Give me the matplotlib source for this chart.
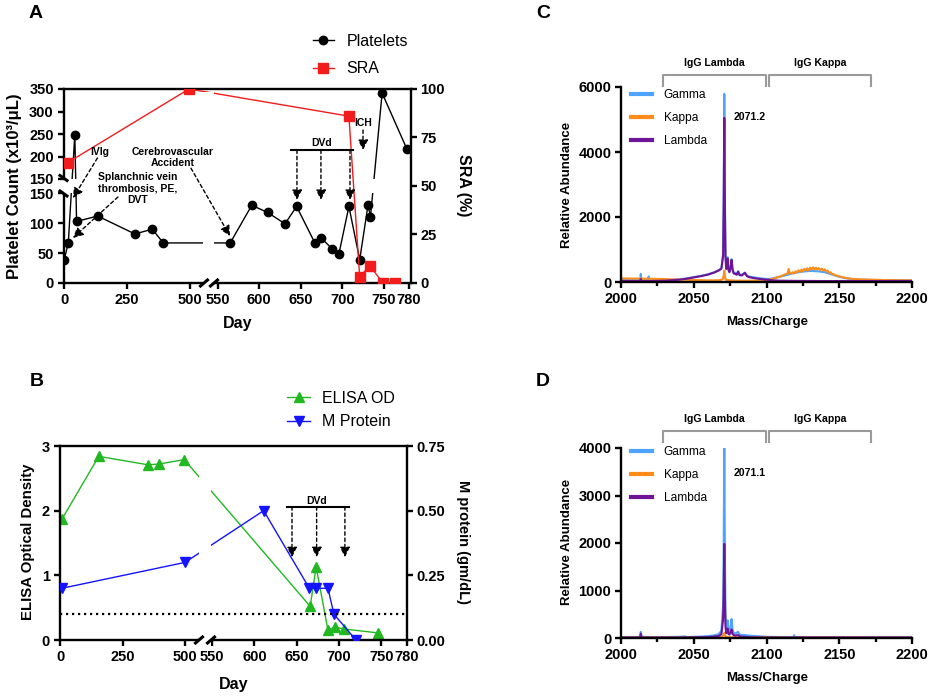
import numpy as np
import matplotlib
matplotlib.use("Agg")
import matplotlib.pyplot as plt
from matplotlib.lines import Line2D
import matplotlib.transforms as mtransforms

plt.rcParams['font.family'] = ['Liberation Sans', 'DejaVu Sans']

# ---------------- data ----------------
# Panel A
platelet_days = [0, 16, 42, 49, 133, 281, 350, 394, 565, 591, 610, 631, 645, 667, 674, 688, 696, 708, 721, 731, 734, 748, 778]
platelet_vals = [39, 67, 248, 103, 112, 82, 90, 67, 67, 130, 118, 99, 128, 67, 76, 57, 49, 128, 39, 130, 111, 341, 216]
sra_days = [13, 496, 708, 721, 733, 749, 764]
sra_vals = [62, 100, 86, 3, 9, 0, 0]
A_xticks = [0, 250, 500, 550, 600, 650, 700, 750, 780]
A_yticks_left = [0, 50, 100, 150, 150.001, 200, 250, 300, 350]
A_yticklabels_left = ["0", "50", "100", "150", "150", "200", "250", "300", "350"]
A_yticks_right = [0, 25, 50, 75, 100]

# Panel B
elisa_days = [8, 155, 351, 395, 497, 666, 673, 687, 695, 706, 746]
elisa_vals = [1.87, 2.84, 2.71, 2.72, 2.79, 0.52, 1.13, 0.15, 0.20, 0.17, 0.11]
mprot_days = [8, 500, 611, 665, 673, 687, 694, 720]
mprot_vals = [0.20, 0.30, 0.50, 0.20, 0.20, 0.20, 0.10, 0.00]
elisa_cutoff = 0.40
B_xticks = [0, 250, 500, 550, 600, 650, 700, 750, 780]
B_yticks_left = [0, 1, 2, 3]
B_yticks_right = [0, 0.25, 0.5, 0.75]
B_yticklabels_right = ["0.00", "0.25", "0.50", "0.75"]

# Panel C spectra
C_gamma_mz = [2000, 2005, 2010, 2013.2, 2013.6, 2014.0, 2018.6, 2019.0, 2019.4, 2025, 2030, 2035, 2040, 2045, 2050, 2055, 2060, 2064, 2067, 2069,
              2070.2, 2070.6, 2071.0, 2071.4, 2071.8, 2072.3, 2072.8, 2073.3, 2073.8, 2074.5, 2075.2, 2076.0, 2076.7, 2077.5, 2078.5, 2079.5,
              2080.5, 2081.5, 2083, 2085.2, 2086.5, 2088, 2090, 2093, 2096, 2100, 2103, 2106, 2110, 2115, 2120, 2125, 2130, 2135, 2140,
              2145, 2150, 2155, 2160, 2170, 2180, 2190, 2200]
C_gamma_val = [60, 60, 55, 60, 250, 60, 55, 170, 55, 50, 50, 60, 80, 110, 150, 190, 240, 300, 360, 420,
               900, 2800, 5790, 2600, 900, 450, 600, 760, 420, 330, 450, 700, 400, 290, 280, 250,
               330, 230, 220, 290, 200, 170, 150, 130, 110, 95, 100, 130, 170, 230, 290, 320, 340, 330, 300,
               230, 160, 110, 85, 65, 60, 55, 50]
C_kappa_mz = [2000, 2010, 2020, 2030, 2040, 2050, 2060, 2068, 2070.0, 2070.6, 2071.0, 2071.4, 2072, 2075, 2080, 2090, 2100, 2104, 2108,
              2111, 2113, 2114.5, 2115.2, 2116, 2117, 2118, 2119, 2120, 2121, 2122, 2123, 2124, 2125, 2126, 2127, 2128, 2129, 2130,
              2131, 2132, 2133, 2134, 2135, 2136, 2137, 2138, 2139, 2140, 2141, 2142, 2143, 2144, 2145, 2146, 2147, 2148, 2150,
              2155, 2160, 2165, 2170, 2180, 2190, 2200]
C_kappa_val = [110, 105, 100, 90, 75, 60, 50, 55, 90, 200, 350, 180, 70, 50, 40, 40, 60, 90, 150,
               200, 240, 260, 400, 270, 260, 300, 260, 330, 290, 360, 310, 380, 330, 400, 350, 420, 360, 440,
               380, 450, 390, 440, 380, 430, 370, 410, 350, 390, 320, 350, 280, 300, 240, 250, 200, 200, 170,
               120, 90, 80, 75, 60, 55, 50]
C_lambda_mz = [2000, 2010, 2013.2, 2013.6, 2014.0, 2020, 2030, 2040, 2045, 2050, 2055, 2060, 2064, 2067, 2069, 2070.2, 2070.6, 2071.0,
               2071.4, 2071.8, 2072.3, 2072.8, 2073.3, 2073.8, 2074.5, 2075.2, 2076.0, 2076.7, 2077.5, 2078.5, 2079.5, 2080.5, 2081.5,
               2083, 2085.2, 2086.5, 2088, 2090, 2093, 2096, 2100, 2105, 2110, 2120, 2140, 2160, 2200]
C_lambda_val = [30, 30, 30, 90, 30, 30, 40, 70, 100, 140, 180, 230, 290, 350, 410, 800, 2400, 5050,
                2300, 800, 400, 560, 720, 380, 300, 420, 680, 360, 260, 250, 220, 320, 210,
                200, 280, 180, 150, 130, 110, 90, 70, 50, 40, 35, 30, 30, 30]

# Panel D spectra
D_gamma_mz = [2000, 2010, 2013.2, 2013.6, 2014.1, 2020, 2030, 2040, 2044, 2045, 2050, 2055, 2060, 2064, 2067, 2069, 2070.2, 2070.6,
              2071.0, 2071.4, 2071.8, 2072.3, 2072.8, 2073.3, 2073.8, 2074.5, 2075.2, 2076.0, 2076.7, 2077.5, 2078.5, 2080.5, 2081.5,
              2085, 2090, 2095, 2100, 2110, 2118.6, 2119, 2119.4, 2130, 2150, 2200]
D_gamma_val = [20, 20, 25, 130, 25, 20, 20, 25, 35, 20, 25, 30, 40, 55, 80, 150, 700, 2000,
               4080, 1800, 500, 200, 300, 370, 180, 140, 220, 400, 170, 110, 90, 130, 70,
               60, 45, 35, 25, 20, 20, 60, 20, 15, 15, 15]
D_kappa_mz = [2000, 2060, 2069, 2070.5, 2071.0, 2071.5, 2073, 2100, 2200]
D_kappa_val = [10, 10, 20, 60, 110, 50, 15, 10, 8]
D_lambda_mz = [2000, 2013.2, 2013.6, 2014.1, 2040, 2060, 2067, 2069, 2070.2, 2070.6, 2071.0, 2071.4, 2071.8, 2072.3, 2072.8, 2073.3,
               2073.8, 2074.5, 2075.2, 2076.0, 2076.7, 2078, 2080.5, 2082, 2090, 2100, 2200]
D_lambda_val = [10, 10, 90, 10, 10, 20, 40, 80, 400, 1000, 1980, 900, 250, 100, 150, 200,
                90, 70, 110, 180, 80, 50, 60, 30, 15, 10, 10]

spec_xticks = [2000, 2050, 2100, 2150, 2200]
spec_xminor = [2025, 2075, 2125, 2175]
C_yticks = [0, 2000, 4000, 6000]
D_yticks = [0, 1000, 2000, 3000, 4000]

# ---------------- style ----------------
W, H = 930, 696
RED = '#F21C1C'
GREEN = '#22B822'
BLUE = '#1414FF'
C_GAMMA = '#4DA3FF'
C_KAPPA = '#FF8C1A'
C_LAMBDA = '#6E1496'
GRAY = '#9A9A9A'
SPW = 1.7

fig = plt.figure(figsize=(W / 100, H / 100), dpi=100)


def rect(l, t, r, b):
    return [l / W, 1 - b / H, (r - l) / W, (b - t) / H]


def fx(p):
    return p / W


def fy(p):
    return 1 - p / H


def piecewise(xp, fp):
    xp = np.asarray(xp, float)
    fp = np.asarray(fp, float)
    s0 = (fp[1] - fp[0]) / (xp[1] - xp[0])
    s1 = (fp[-1] - fp[-2]) / (xp[-1] - xp[-2])

    def f(x):
        x = np.asarray(x, float)
        y = np.interp(x, xp, fp)
        y = np.where(x < xp[0], fp[0] + (x - xp[0]) * s0, y)
        y = np.where(x > xp[-1], fp[-1] + (x - xp[-1]) * s1, y)
        return y
    return f


def broken_scale(bp, px):
    return (piecewise(bp, px), piecewise(px, bp))


def slash(cx, cy, dx, dy):
    fig.add_artist(Line2D([fx(cx - dx), fx(cx + dx)], [fy(cy - dy), fy(cy + dy)],
                          transform=fig.transFigure, color='k', lw=2.2, zorder=10))


def style_ticks(ax):
    ax.tick_params(axis='both', which='major', direction='out', length=4.5, width=SPW, labelsize=10.5, pad=2.5)
    for lab in ax.get_xticklabels() + ax.get_yticklabels():
        lab.set_fontweight('bold')


arrowprops = dict(arrowstyle='-|>,head_length=0.6,head_width=0.3', linestyle=(0, (2.5, 2)),
                  lw=1.0, color='k', shrinkA=0, shrinkB=0, mutation_scale=10)

# ================= Panel A =================
axA = fig.add_axes(rect(63.5, 89, 410.5, 283))
axA.set_xscale('function', functions=broken_scale([0, 500, 550, 780], [64.3, 190, 217.8, 408.7]))
axA.set_yscale('function', functions=broken_scale([0, 150, 150.001, 350], [0, 89.7, 104, 194]))
axA.set_xlim(-3, 782.2)
axA.set_ylim(0, 350)
axA.plot(platelet_days, platelet_vals, '-o', color='k', lw=1.0, ms=6, zorder=2)
band = axA.axhspan(150, 150.001, xmin=-0.03, xmax=0.99, color='white', lw=0, zorder=2.6)
band.set_clip_on(False)
axA.yaxis.set_zorder(2.7)
axA.set_xticks(A_xticks, [str(t) for t in A_xticks])
axA.set_yticks(A_yticks_left, A_yticklabels_left)
axA.spines['right'].set_visible(False)
for s in axA.spines.values():
    s.set_linewidth(SPW)
style_ticks(axA)

axA2 = axA.twinx()
axA2.set_ylim(0, 100)
axA2.plot(sra_days, sra_vals, '-s', color=RED, lw=1.0, ms=6.5, zorder=2)
xb = axA2.axvspan(524, 544, ymin=-0.03, ymax=0.985, color='white', lw=0, zorder=5)
xb.set_clip_on(False)
axA2.set_yticks(A_yticks_right, [str(t) for t in A_yticks_right])
for k in ['left', 'top', 'bottom']:
    axA2.spines[k].set_visible(False)
axA2.spines['right'].set_linewidth(SPW)
style_ticks(axA2)

tA = axA.transData
for tail, tip in [((132, 196.7), (34.6, 142)), ((213.6, 143.8), (34.6, 75.3)), ((501.8, 174), (564.7, 78.6)),
                  ((645.4, 214.4), (645.4, 138.8)), ((674.3, 214.4), (674.3, 138.8)), ((709.3, 214.4), (709.3, 138.8)),
                  ((725, 258.9), (725, 214.4))]:
    axA2.annotate('', xy=tip, xytext=tail, xycoords=tA, textcoords=tA, arrowprops=arrowprops, zorder=6)
axA2.plot([637.8, 713.3], [214.4, 214.4], transform=tA, color='k', lw=1.5, zorder=6)
tkw = dict(fontsize=7.5, fontweight='bold', transform=tA, zorder=7, ha='center')
axA2.text(142, 210, 'IVIg', va='center', **tkw)
axA2.text(293, 165.6, 'Splanchnic vein\nthrombosis, PE,\nDVT', va='top', multialignment='center', **tkw)
axA2.text(432, 198, 'Cerebrovascular\nAccident', va='center', multialignment='center', **tkw)
axA2.text(675.5, 230, 'DVd', va='center', **tkw)
axA2.text(725, 274, 'ICH', va='center', **tkw)

slash(63.5, 178, 3.5, 2.5)
slash(63.5, 193.5, 3.5, 2.5)
slash(204, 283, 3.5, -3)
slash(214, 283, 3.5, -3)

fig.text(fx(15), fy(186), 'Platelet Count (x10³/μL)', rotation=90, ha='center', va='center', fontsize=12, fontweight='bold')
fig.text(fx(463), fy(185), 'SRA (%)', rotation=270, ha='center', va='center', fontsize=11.5, fontweight='bold')
fig.text(fx(238), fy(324), 'Day', ha='center', va='center', fontsize=11.5, fontweight='bold')

hA = [Line2D([], [], color='k', marker='o', ms=6, lw=1), Line2D([], [], color=RED, marker='s', ms=6.5, lw=1)]
fig.legend(hA, ['Platelets', 'SRA'], loc='center left', bbox_to_anchor=(fx(313), fy(55)), frameon=False,
           prop={'size': 11.5}, handlelength=1.3, handletextpad=0.8, labelspacing=0.8, borderpad=0, borderaxespad=0)

# ================= Panel B =================
axB = fig.add_axes(rect(59.5, 446, 406.7, 640))
axB.set_xscale('function', functions=broken_scale([0, 500, 550, 780], [60, 185, 212, 406.7]))
axB.set_xlim(-2, 780)
axB.set_ylim(0, 3)
axB.plot(elisa_days, elisa_vals, '-^', color=GREEN, lw=1.0, ms=6.5, zorder=2)
axB.set_xticks(B_xticks, [str(t) for t in B_xticks])
axB.set_yticks(B_yticks_left, [str(t) for t in B_yticks_left])
axB.spines['right'].set_visible(False)
for s in axB.spines.values():
    s.set_linewidth(SPW)
style_ticks(axB)

axB2 = axB.twinx()
axB2.set_ylim(0, 0.75)
axB2.plot(mprot_days, mprot_vals, '-v', color=BLUE, lw=1.0, ms=6.5, zorder=2)
xb = axB2.axvspan(526, 548, ymin=-0.03, ymax=0.985, color='white', lw=0, zorder=5)
xb.set_clip_on(False)
axB2.set_yticks(B_yticks_right, B_yticklabels_right)
for k in ['left', 'top', 'bottom']:
    axB2.spines[k].set_visible(False)
axB2.spines['right'].set_linewidth(SPW)
style_ticks(axB2)

blend = mtransforms.blended_transform_factory(axB2.transAxes, axB.transData)
axB2.plot([0, 1], [elisa_cutoff, elisa_cutoff], transform=blend, color='k', lw=1.6, ls=(0, (1, 1.7)), zorder=6)
tB = axB.transData
for xd in [644.5, 673.6, 707]:
    axB2.annotate('', xy=(xd, 1.28), xytext=(xd, 2.06), xycoords=tB, textcoords=tB, arrowprops=arrowprops, zorder=6)
axB2.plot([638.2, 711.7], [2.06, 2.06], transform=tB, color='k', lw=1.5, zorder=6)
axB2.text(673.6, 2.155, 'DVd', ha='center', va='center', fontsize=7.5, fontweight='bold', transform=tB, zorder=7)

slash(199, 640, 3.5, -3)
slash(211, 640, 3.5, -3)

fig.text(fx(28), fy(542), 'ELISA Optical Density', rotation=90, ha='center', va='center', fontsize=10.8, fontweight='bold')
fig.text(fx(463), fy(542), 'M protein (gm/dL)', rotation=270, ha='center', va='center', fontsize=10.5, fontweight='bold')
fig.text(fx(234), fy(685), 'Day', ha='center', va='center', fontsize=11.5, fontweight='bold')

hB = [Line2D([], [], color=GREEN, marker='^', ms=6.5, lw=1), Line2D([], [], color=BLUE, marker='v', ms=6.5, lw=1)]
fig.legend(hB, ['ELISA OD', 'M Protein'], loc='center left', bbox_to_anchor=(fx(287), fy(410)), frameon=False,
           prop={'size': 11.5}, handlelength=1.45, handletextpad=0.75, labelspacing=0.55, borderpad=0, borderaxespad=0)


# ================= Panels C & D =================
def spectrum_panel(r, series, yticks, ymax, ybr, ytxt, peak_label, peak_y, legend_y):
    ax = fig.add_axes(rect(*r))
    for mz, val, col, name in series:
        ax.plot(mz, val, color=col, lw=1.5, label=name)
    ax.set_xlim(2000, 2200)
    ax.set_ylim(0, ymax)
    ax.set_xticks(spec_xticks, [str(t) for t in spec_xticks])
    ax.set_xticks(spec_xminor, minor=True)
    ax.set_yticks(yticks, [str(t) for t in yticks])
    for k in ['top', 'right']:
        ax.spines[k].set_visible(False)
    for k in ['left', 'bottom']:
        ax.spines[k].set_linewidth(SPW)
    style_ticks(ax)
    ax.tick_params(axis='x', which='minor', direction='out', length=3, width=SPW)
    y0, y1 = ybr
    ax.plot([2028.6, 2028.6, 2099.7, 2099.7], [y0, y1, y1, y0], color=GRAY, lw=1.5, clip_on=False)
    ax.plot([2101.4, 2101.4, 2171.8, 2171.8], [y0, y1, y1, y0], color=GRAY, lw=1.5, clip_on=False)
    ax.text(2064, ytxt, 'IgG Lambda', ha='center', va='center', fontsize=7.6, fontweight='bold')
    ax.text(2136.6, ytxt, 'IgG Kappa', ha='center', va='center', fontsize=7.6, fontweight='bold')
    ax.text(2077.7, peak_y, peak_label, ha='left', va='center', fontsize=7.6, fontweight='bold')
    hs = [Line2D([], [], color=c, lw=3) for _, _, c, _ in series]
    ax.legend(hs, [n for _, _, _, n in series], loc='center left', bbox_to_anchor=(fx(631), fy(legend_y)),
              bbox_transform=fig.transFigure, frameon=False, prop={'size': 8.6}, handlelength=1.75,
              handletextpad=1.0, labelspacing=0.9, borderpad=0, borderaxespad=0)
    return ax


spectrum_panel((621, 87, 912, 282),
               [(C_gamma_mz, C_gamma_val, C_GAMMA, 'Gamma'), (C_kappa_mz, C_kappa_val, C_KAPPA, 'Kappa'),
                (C_lambda_mz, C_lambda_val, C_LAMBDA, 'Lambda')],
               C_yticks, 6000, (6030, 6370), 6740, '2071.2', 5080, 118)
spectrum_panel((621, 448, 912, 638),
               [(D_gamma_mz, D_gamma_val, C_GAMMA, 'Gamma'), (D_kappa_mz, D_kappa_val, C_KAPPA, 'Kappa'),
                (D_lambda_mz, D_lambda_val, C_LAMBDA, 'Lambda')],
               D_yticks, 4000, (4126, 4358), 4610, '2071.1', 3473, 475)

fig.text(fx(567), fy(185), 'Relative Abundance', rotation=90, ha='center', va='center', fontsize=9.5, fontweight='bold')
fig.text(fx(567), fy(542), 'Relative Abundance', rotation=90, ha='center', va='center', fontsize=9.5, fontweight='bold')
fig.text(fx(767), fy(322), 'Mass/Charge', ha='center', va='center', fontsize=9.5, fontweight='bold')
fig.text(fx(767), fy(678), 'Mass/Charge', ha='center', va='center', fontsize=9.5, fontweight='bold')

for lab, (px, py) in zip('ABCD', [(36, 14), (37, 382), (543, 13), (543, 382)]):
    fig.text(fx(px), fy(py), lab, ha='center', va='center', fontsize=14, fontweight='bold')

fig.savefig('out.png', dpi=100)
